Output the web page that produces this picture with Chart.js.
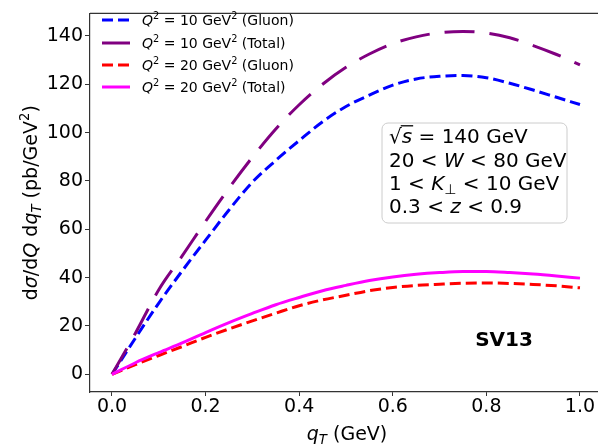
<!DOCTYPE html>
<html>
<head>
<meta charset="utf-8">
<script src="https://cdn.jsdelivr.net/npm/chart.js@4"></script>
<style>
  html, body { margin: 0; padding: 0; background: #fff; }
  #wrap { width: 598px; height: 448px; }
</style>
</head>
<body>
<div id="wrap"><canvas id="chart" width="598" height="448"></canvas></div>
<script>
// q_T grid (GeV)
const qT = [0, 0.05, 0.1, 0.15, 0.2, 0.25, 0.3, 0.35, 0.4, 0.45, 0.5,
            0.55, 0.6, 0.65, 0.7, 0.75, 0.8, 0.85, 0.9, 0.95, 1.0];
// Q^2 = 10 GeV^2
const gluon10 = [0, 15, 29.5, 42.8, 55.5, 68, 79.5, 88.5, 96.7, 104.5, 110.8,
                 115.5, 119.6, 122.2, 123.3, 123.6, 122.7, 120.4, 117.6, 114.6, 111.6];
const total10 = [0, 17, 35, 49, 63.3, 77, 89.8, 101.5, 111.5, 120, 127,
                 132.5, 136.8, 139.6, 141.3, 141.8, 141.2, 139.2, 136, 132.3, 128];
// Q^2 = 20 GeV^2
const gluon20 = [0, 4.0, 7.8, 11.5, 15.3, 18.8, 22.1, 25.3, 28.4, 30.8, 32.7,
                 34.6, 35.9, 36.8, 37.3, 37.7, 37.8, 37.6, 37.2, 36.6, 35.8];
const total20 = [0, 4.8, 9.0, 13.0, 17.3, 21.4, 25.2, 28.8, 31.8, 34.6, 36.8,
                 38.8, 40.3, 41.4, 42.1, 42.5, 42.5, 42.1, 41.5, 40.7, 39.8];

const xTicks = [0, 0.2, 0.4, 0.6, 0.8, 1.0];
const yTicks = [0, 20, 40, 60, 80, 100, 120, 140];

const FONT = "'DejaVu Sans', sans-serif";

const series = [
  { label: 'Gluon', q2: '10', data: gluon10, color: '#0000ff', dash: [11, 5], order: 4 },
  { label: 'Total', q2: '10', data: total10, color: '#800080', dash: [30, 15], order: 3 },
  { label: 'Gluon', q2: '20', data: gluon20, color: '#ff0000', dash: [11, 5], order: 2 },
  { label: 'Total', q2: '20', data: total20, color: '#ff00ff', dash: [], order: 1 }
];

// draw text made of pieces (italic / sub / sup)
function richWidth(ctx, segs, size) {
  let w = 0;
  segs.forEach(s => {
    const fs = (s.sub || s.sup) ? size * 0.7 : size;
    ctx.font = (s.i ? 'italic ' : '') + (s.b ? 'bold ' : '') + fs + 'px ' + FONT;
    w += ctx.measureText(s.t).width;
  });
  return w;
}
function drawRich(ctx, segs, x, y, size, align) {
  let cx = x;
  if (align === 'center') cx = x - richWidth(ctx, segs, size) / 2;
  ctx.textBaseline = 'alphabetic';
  ctx.textAlign = 'left';
  segs.forEach(s => {
    const fs = (s.sub || s.sup) ? size * 0.7 : size;
    ctx.font = (s.i ? 'italic ' : '') + (s.b ? 'bold ' : '') + fs + 'px ' + FONT;
    let dy = 0;
    if (s.sub) dy = size * 0.22;
    if (s.sup) dy = -size * 0.42;
    ctx.fillText(s.t, cx, y + dy);
    const w = ctx.measureText(s.t).width;
    if (s.over) {
      ctx.save();
      ctx.lineWidth = 1.3;
      ctx.beginPath();
      ctx.moveTo(cx - 1, y - size * 0.86);
      ctx.lineTo(cx + w + 1, y - size * 0.86);
      ctx.stroke();
      ctx.restore();
    }
    cx += w;
  });
}

const decor = {
  id: 'decor',
  afterDraw(chart) {
    const ctx = chart.ctx;
    const a = chart.chartArea;
    ctx.save();

    // top spine
    ctx.strokeStyle = '#333';
    ctx.lineWidth = 1.2;
    ctx.beginPath();
    ctx.moveTo(a.left, a.top);
    ctx.lineTo(a.right, a.top);
    ctx.stroke();

    // axis titles
    ctx.fillStyle = '#000';
    ctx.strokeStyle = '#000';
    drawRich(ctx, [{ t: 'q', i: 1 }, { t: 'T', i: 1, sub: 1 }, { t: ' (GeV)' }], 347, 440, 19, 'center');
    ctx.save();
    ctx.translate(37, (a.top + a.bottom) / 2);
    ctx.rotate(-Math.PI / 2);
    drawRich(ctx, [{ t: 'd' }, { t: 'σ', i: 1 }, { t: '/d' }, { t: 'Q', i: 1 }, { t: ' d' },
                   { t: 'q', i: 1 }, { t: 'T', i: 1, sub: 1 }, { t: ' (pb/GeV' },
                   { t: '2', sup: 1 }, { t: ')' }], 0, 0, 19, 'center');
    ctx.restore();

    // legend
    const rows = [25, 48, 70, 92];
    series.forEach((s, k) => {
      const y = rows[k];
      ctx.save();
      ctx.strokeStyle = s.color;
      ctx.lineWidth = 3;
      ctx.setLineDash(s.dash);
      ctx.beginPath();
      ctx.moveTo(102, y - 5);
      ctx.lineTo(130, y - 5);
      ctx.stroke();
      ctx.restore();
      drawRich(ctx, [{ t: 'Q', i: 1 }, { t: '2', sup: 1 }, { t: ' = ' + s.q2 + ' GeV' },
                     { t: '2', sup: 1 }, { t: ' (' + s.label + ')' }], 142, y, 14);
    });

    // info box
    ctx.save();
    ctx.beginPath();
    ctx.roundRect(382, 123, 185, 100, 6);
    ctx.fillStyle = 'rgba(255,255,255,0.8)';
    ctx.fill();
    ctx.strokeStyle = '#cccccc';
    ctx.lineWidth = 1;
    ctx.stroke();
    ctx.restore();
    ctx.fillStyle = '#000';
    ctx.strokeStyle = '#000';
    const bx = 389;
    drawRich(ctx, [{ t: '√' }, { t: 's', i: 1, over: 1 }, { t: ' = 140 GeV' }], bx, 143, 20);
    drawRich(ctx, [{ t: '20 < ' }, { t: 'W', i: 1 }, { t: ' < 80 GeV' }], bx, 167, 20);
    drawRich(ctx, [{ t: '1 < ' }, { t: 'K', i: 1 }, { t: '⊥', sub: 1 }, { t: ' < 10 GeV' }], bx, 190, 20);
    drawRich(ctx, [{ t: '0.3 < ' }, { t: 'z', i: 1 }, { t: ' < 0.9' }], bx, 213, 20);

    // model tag
    drawRich(ctx, [{ t: 'SV13', b: 1 }], 504, 346, 20, 'center');
    ctx.restore();
  }
};

new Chart(document.getElementById('chart'), {
  type: 'line',
  data: {
    datasets: series.map(s => ({
      label: 'Q² = ' + s.q2 + ' GeV² (' + s.label + ')',
      data: qT.map((x, i) => ({ x: x, y: s.data[i] })),
      borderColor: s.color,
      borderWidth: 3,
      borderDash: s.dash,
      pointRadius: 0,
      cubicInterpolationMode: 'monotone',
      fill: false,
      order: s.order
    }))
  },
  options: {
    responsive: false,
    animation: false,
    events: [],
    layout: { padding: { top: 4, left: 0, right: 0, bottom: 0 } },
    plugins: { legend: { display: false }, tooltip: { enabled: false } },
    scales: {
      x: {
        type: 'linear',
        min: -0.047,
        max: 1.0385,
        afterBuildTicks: s => { s.ticks = xTicks.map(v => ({ value: v })); },
        afterFit: s => { s.height = 56; },
        ticks: {
          callback: v => Number(v).toFixed(1),
          font: { size: 19, family: FONT },
          color: '#000',
          maxRotation: 0,
          padding: 0
        },
        grid: { drawOnChartArea: false, drawTicks: true, tickLength: 4, color: '#333' },
        border: { color: '#333', width: 1.2 }
      },
      y: {
        min: -7.3,
        max: 149.3,
        afterBuildTicks: s => { s.ticks = yTicks.map(v => ({ value: v })); },
        afterFit: s => { s.width = 90; },
        ticks: {
          callback: v => String(v),
          font: { size: 19, family: FONT },
          color: '#000',
          padding: 2
        },
        grid: { drawOnChartArea: false, drawTicks: true, tickLength: 5, color: '#333' },
        border: { color: '#333', width: 1.2 }
      }
    }
  },
  plugins: [decor]
});
</script>
</body>
</html>
